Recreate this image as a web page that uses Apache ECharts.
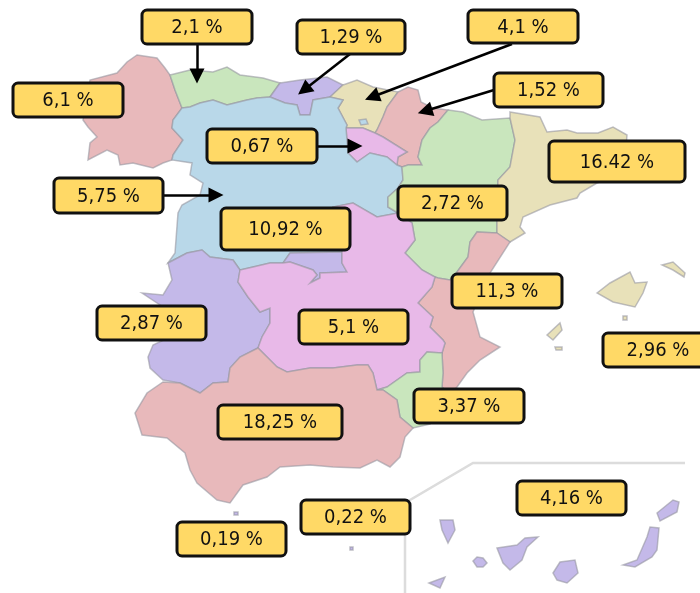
<!DOCTYPE html>
<html>
<head>
<meta charset="utf-8">
<style>html,body{margin:0;padding:0;background:#fff}#map{width:700px;height:593px}</style>
<script src="https://cdn.jsdelivr.net/npm/echarts@6/dist/echarts.min.js"></script>
</head>
<body>
<div id="map"></div>
<script>
// regions and their shares, as printed on the picture
const regionNames = ["Galicia", "Asturias", "Cantabria", "País Vasco", "Navarra", "La Rioja", "Castilla y León",
    "Madrid", "Aragón", "Cataluña", "Comunidad Valenciana", "Islas Baleares", "Extremadura",
    "Castilla-La Mancha", "Murcia", "Andalucía", "Ceuta", "Melilla", "Canarias"];
const regionValues = [6.1, 2.1, 1.29, 4.1, 1.52, 0.67, 5.75, 10.92, 2.72, 16.42, 11.3, 2.96, 2.87, 5.1, 3.37, 18.25, 0.19, 0.22, 4.16];
const regionLabels = ["6,1 %", "2,1 %", "1,29 %", "4,1 %", "1,52 %", "0,67 %", "5,75 %", "10,92 %", "2,72 %", "16.42 %",
    "11,3 %", "2,96 %", "2,87 %", "5,1 %", "3,37 %", "18,25 %", "0,19 %", "0,22 %", "4,16 %"];
const regionColors = ["#e8b9bb", "#c9e6bd", "#c4b9e9", "#e8e1b9", "#e8b9bb", "#e8b9e8", "#b9d8e9",
    "#c4b9e9", "#c9e6bd", "#e8e1b9", "#e8b9bb", "#e8e1b9", "#c4b9e9",
    "#e8b9e8", "#c9e6bd", "#e8b9bb", "#c4b9e9", "#c4b9e9", "#c4b9e9"];

// label boxes: x0, y0, x1, y1 in map units
const labelBoxes = [[13, 83, 123, 117], [142, 10, 252, 44], [297, 20, 405, 54], [468, 10, 578, 43], [494, 73, 603, 107],
    [207, 129, 317, 163], [54, 178, 163, 213], [221, 208, 350, 250], [398, 186, 507, 220], [549, 141, 685, 182],
    [452, 274, 562, 308], [603, 333, 713, 367], [97, 306, 206, 340], [299, 310, 408, 344], [414, 389, 524, 423],
    [218, 405, 342, 439], [177, 522, 286, 556], [301, 500, 410, 534], [517, 481, 626, 515]];

// leader arrows, ending where the arrow head is centred
const arrowPaths = [
    [[197, 44], [197, 76]],
    [[350, 54], [304, 90]],
    [[512, 44], [372, 97]],
    [[494, 90], [425, 111]],
    [[317, 146], [355, 146]],
    [[163, 195], [216, 195]]
];
// frame round the Canary Islands inset
const insetFrame = [[405, 593], [405, 503], [473, 463], [685, 463]];

// region outlines
const outlines = {
    "Galicia": [[[137, 55], [157, 58], [165, 68], [170, 75], [175, 90], [182, 108], [173, 120], [172, 128], [183, 140], [173, 155], [172, 160], [163, 163], [153, 168], [133, 163], [120, 165], [118, 155], [107, 150], [88, 160], [90, 143], [97, 137], [88, 127], [83, 120], [90, 80], [117, 73], [127, 62]]],
    "Asturias": [[[170, 75], [190, 70], [213, 72], [227, 67], [240, 75], [263, 78], [280, 83], [270, 97], [257, 98], [247, 100], [227, 105], [213, 100], [200, 103], [190, 107], [182, 108], [175, 90]]],
    "Cantabria": [[[280, 83], [300, 80], [327, 77], [343, 85], [330, 97], [313, 100], [310, 115], [300, 115], [297, 105], [285, 103], [270, 97]]],
    "País Vasco": [[[343, 85], [357, 80], [373, 87], [398, 92], [387, 107], [383, 117], [377, 130], [375, 133], [363, 128], [346, 128], [347, 125], [338, 108], [343, 100], [330, 97]]],
    "Navarra": [[[398, 92], [408, 87], [418, 90], [421, 102], [433, 108], [448, 110], [438, 122], [430, 128], [422, 140], [418, 157], [422, 165], [408, 165], [402, 167], [397, 165], [398, 157], [407, 152], [383, 137], [375, 133], [377, 130], [383, 117], [387, 107]]],
    "La Rioja": [[[346, 128], [363, 128], [375, 133], [383, 137], [407, 152], [398, 157], [397, 165], [387, 157], [370, 153], [357, 162], [348, 153]]],
    "Castilla y León": [
        [[182, 108], [190, 107], [200, 103], [213, 100], [227, 105], [247, 100], [257, 98], [270, 97], [285, 103], [297, 105], [300, 115], [310, 115], [313, 100], [330, 97], [343, 100], [338, 108], [347, 125], [346, 128], [348, 153], [357, 162], [370, 153], [387, 157], [397, 165], [402, 167], [403, 180], [398, 188], [388, 197], [388, 207], [398, 213], [377, 217], [353, 203], [333, 207], [345, 235], [342, 252], [290, 253], [283, 263], [270, 263], [253, 267], [240, 270], [233, 260], [210, 257], [202, 250], [187, 253], [168, 263], [175, 253], [178, 213], [182, 205], [200, 195], [203, 183], [190, 175], [192, 163], [172, 160], [173, 155], [183, 140], [172, 128], [173, 120]],
        [[359, 120], [366, 119], [368, 124], [361, 125]]
    ],
    "Madrid": [[[290, 253], [342, 252], [342, 263], [347, 272], [320, 273], [320, 278], [310, 283], [317, 275], [313, 270], [290, 262], [283, 263]]],
    "Aragón": [[[448, 110], [463, 112], [482, 120], [510, 118], [515, 140], [510, 167], [498, 180], [497, 220], [497, 233], [477, 232], [470, 242], [468, 257], [457, 272], [450, 280], [438, 278], [435, 277], [422, 270], [405, 253], [415, 240], [412, 223], [398, 213], [388, 207], [388, 197], [398, 188], [403, 180], [402, 167], [408, 165], [422, 165], [418, 157], [422, 140], [430, 128], [438, 122]]],
    "Cataluña": [[[510, 112], [540, 117], [547, 132], [567, 130], [577, 133], [598, 133], [613, 127], [627, 135], [625, 160], [610, 178], [597, 183], [580, 193], [577, 198], [550, 205], [523, 217], [520, 227], [525, 233], [510, 242], [497, 233], [497, 220], [498, 180], [510, 167], [515, 140], [510, 118]]],
    "Comunidad Valenciana": [[[497, 233], [510, 242], [490, 273], [478, 300], [473, 312], [480, 337], [500, 347], [480, 360], [467, 373], [457, 387], [450, 395], [442, 387], [443, 373], [442, 353], [445, 343], [443, 340], [430, 327], [433, 317], [418, 303], [432, 287], [435, 277], [438, 278], [450, 280], [457, 272], [468, 257], [470, 242], [477, 232]]],
    "Islas Baleares": [
        [[597, 293], [610, 283], [630, 272], [635, 283], [647, 282], [643, 293], [635, 307], [613, 302]],
        [[662, 265], [673, 262], [685, 273], [684, 277], [673, 270]],
        [[547, 335], [560, 323], [562, 330], [553, 340]],
        [[555, 347], [562, 347], [562, 350], [556, 350]],
        [[623, 316], [627, 316], [627, 320], [623, 320]]
    ],
    "Extremadura": [[[168, 263], [187, 253], [202, 250], [210, 257], [233, 260], [240, 270], [238, 282], [248, 297], [260, 312], [270, 308], [270, 323], [262, 337], [258, 348], [240, 357], [230, 368], [228, 382], [213, 383], [200, 393], [180, 383], [163, 380], [150, 368], [148, 357], [153, 345], [170, 337], [163, 307], [142, 293], [163, 295], [172, 280]]],
    "Castilla-La Mancha": [[[240, 270], [253, 267], [270, 263], [283, 263], [290, 262], [313, 270], [317, 275], [310, 283], [320, 278], [320, 273], [347, 272], [342, 263], [342, 252], [345, 235], [333, 207], [353, 203], [377, 217], [398, 213], [412, 223], [415, 240], [405, 253], [422, 270], [435, 277], [432, 287], [418, 303], [433, 317], [430, 327], [443, 340], [445, 343], [442, 353], [427, 352], [420, 360], [420, 372], [407, 373], [387, 387], [377, 390], [373, 373], [368, 365], [357, 365], [333, 368], [310, 368], [287, 372], [277, 367], [258, 348], [262, 337], [270, 323], [270, 308], [260, 312], [248, 297], [238, 282]]],
    "Murcia": [[[442, 353], [443, 373], [442, 387], [450, 395], [445, 405], [430, 424], [413, 428], [400, 417], [397, 400], [383, 390], [377, 390], [387, 387], [407, 373], [420, 372], [420, 360], [427, 352]]],
    "Andalucía": [[[163, 382], [180, 383], [200, 393], [213, 383], [228, 382], [230, 368], [240, 357], [258, 348], [277, 367], [287, 372], [310, 368], [333, 368], [357, 365], [368, 365], [373, 373], [377, 390], [383, 390], [397, 400], [400, 417], [413, 428], [405, 437], [400, 457], [390, 467], [377, 460], [360, 468], [333, 467], [310, 465], [280, 467], [267, 477], [243, 485], [230, 503], [217, 500], [197, 483], [190, 470], [185, 453], [167, 438], [142, 435], [135, 413], [147, 393]]],
    "Ceuta": [[[234, 512], [238, 512], [238, 515], [234, 515]]],
    "Melilla": [[[350, 547], [353, 547], [353, 550], [350, 550]]],
    "Canarias": [
        [[440, 520], [453, 520], [455, 530], [448, 543], [442, 530]],
        [[429, 583], [445, 577], [440, 588]],
        [[473, 561], [477, 557], [483, 558], [487, 563], [483, 567], [477, 567]],
        [[497, 548], [517, 545], [525, 538], [538, 537], [527, 547], [522, 560], [510, 570], [503, 563]],
        [[553, 573], [560, 562], [575, 560], [578, 573], [567, 583], [557, 580]],
        [[623, 565], [637, 560], [647, 537], [650, 527], [659, 528], [657, 550], [652, 557], [635, 567]],
        [[657, 513], [673, 500], [679, 502], [677, 512], [660, 521]]
    ]
};

const toGeo = (p) => [p[0], -p[1]];

const geoJson = {
    type: "FeatureCollection",
    features: regionNames.map((name) => ({
        type: "Feature",
        properties: { name: name },
        geometry: {
            type: "MultiPolygon",
            coordinates: outlines[name].map((ring) => [ring.concat([ring[0]]).map(toGeo)])
        }
    }))
};
echarts.registerMap("spain", geoJson);

const chart = echarts.init(document.getElementById("map"));

const option = {
    animation: false,
    geo: {
        map: "spain",
        roam: false,
        silent: true,
        aspectScale: 1,
        boundingCoords: [[0, 0], [700, -593]],
        left: 0,
        top: 0,
        width: 700,
        height: 593,
        label: { show: false },
        itemStyle: { borderColor: "rgba(150,150,160,0.6)", borderWidth: 1.5 },
        regions: regionNames.map((name, i) => ({
            name: name,
            itemStyle: { areaColor: regionColors[i] }
        }))
    },
    series: [
        {
            type: "map",
            geoIndex: 0,
            silent: true,
            data: regionNames.map((name, i) => ({ name: name, value: regionValues[i] }))
        },
        {
            type: "lines",
            coordinateSystem: "geo",
            polyline: true,
            silent: true,
            symbol: "none",
            z: 3,
            lineStyle: { color: "#dcdcdc", width: 2.5, opacity: 1 },
            data: [{ coords: insetFrame.map(toGeo) }]
        },
        {
            type: "lines",
            coordinateSystem: "geo",
            silent: true,
            symbol: ["none", "triangle"],
            symbolSize: 15,
            z: 4,
            lineStyle: { color: "#000", width: 2.5, opacity: 1, curveness: 0 },
            data: arrowPaths.map((path) => ({ coords: path.map(toGeo) }))
        },
        {
            type: "custom",
            coordinateSystem: "geo",
            silent: true,
            z: 5,
            data: labelBoxes.map((box) => box.map((v, k) => (k % 2 ? -v : v))),
            renderItem: (params, api) => {
                const a = api.coord([api.value(0), api.value(1)]);
                const b = api.coord([api.value(2), api.value(3)]);
                return {
                    type: "group",
                    children: [
                        {
                            type: "rect",
                            shape: { x: a[0], y: a[1], width: b[0] - a[0], height: b[1] - a[1], r: 5 },
                            style: { fill: "#ffd966", stroke: "#111", lineWidth: 3 }
                        },
                        {
                            type: "text",
                            style: {
                                text: regionLabels[params.dataIndex],
                                x: (a[0] + b[0]) / 2,
                                y: (a[1] + b[1]) / 2 + 1,
                                align: "center",
                                verticalAlign: "middle",
                                font: '20px "DejaVu Sans Condensed", "DejaVu Sans"',
                                fill: "#111"
                            }
                        }
                    ]
                };
            }
        }
    ]
};

chart.setOption(option);
</script>
</body>
</html>
